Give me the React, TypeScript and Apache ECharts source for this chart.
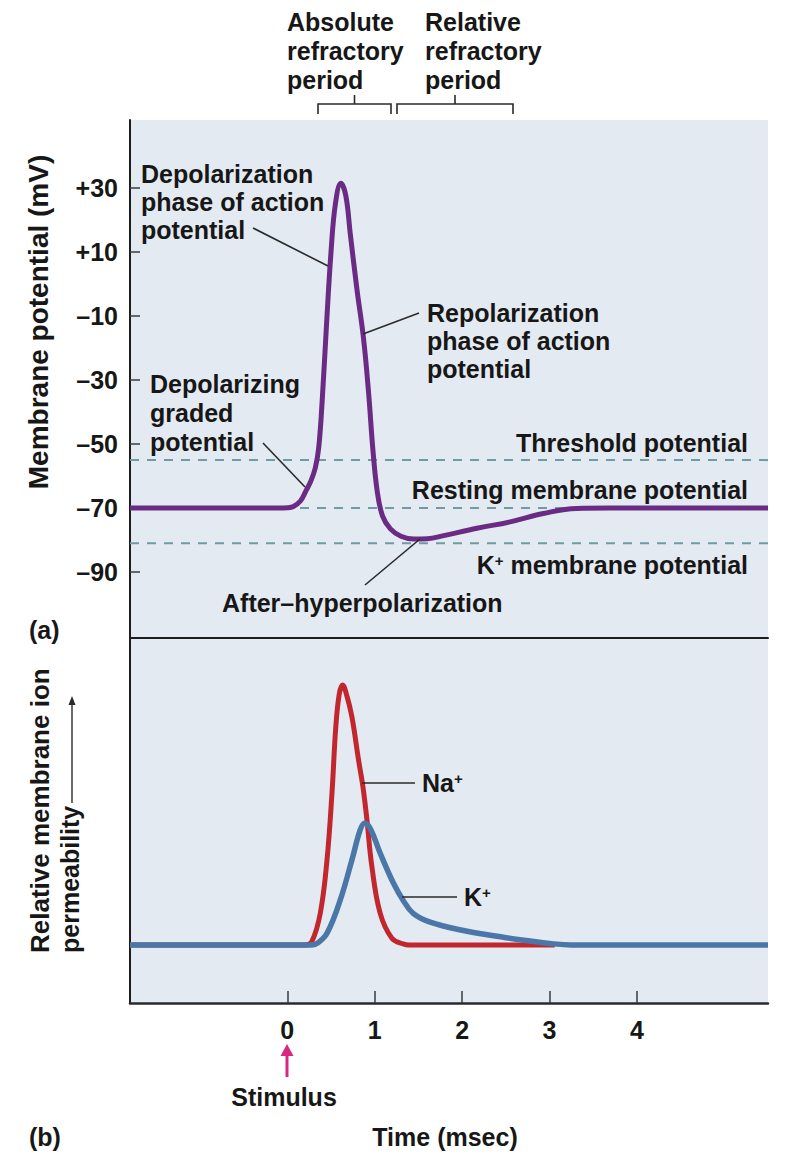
import React, { useEffect, useRef } from "react";
import * as echarts from "echarts";

// ---- data ----
// (a) membrane potential, mV, against time, msec
const apTime = [-1.8, -0.1, 0.0, 0.07, 0.15, 0.21, 0.27, 0.32, 0.36, 0.4, 0.45, 0.5, 0.55, 0.613, 0.67, 0.72, 0.796, 0.872, 0.93, 0.98, 1.03, 1.09, 1.18, 1.3, 1.45, 1.6, 1.79, 2.17, 2.55, 2.93, 3.31, 3.7, 5.5];
const apMv = [-70, -70, -69.9, -69.5, -67.8, -64.8, -61.5, -57.5, -51, -36, -12, 10, 25, 31.5, 27.5, 15.8, -1.5, -17, -34, -52, -65, -72.5, -76.5, -78.8, -79.7, -79.6, -78.6, -76.3, -74.3, -71.7, -70.1, -70, -70];

// reference levels (dashed): threshold, resting, K+ equilibrium
const refLevels = [-55, -70, -81];

// (b) relative permeability (arbitrary units, Na+ peak = 100)
const naTime = [-1.8, 0.2, 0.28, 0.377, 0.454, 0.511, 0.555, 0.595, 0.632, 0.675, 0.739, 0.815, 0.865, 0.911, 0.968, 1.063, 1.197, 1.326, 1.4, 3.06];
const naPerm = [0, 0, 1.3, 12.2, 32.8, 58.6, 84.3, 97, 100.4, 97, 88.1, 71.4, 61.1, 48.3, 30.2, 12.2, 2.6, 0.4, 0, 0];
const kTime = [-1.8, 0.28, 0.35, 0.454, 0.606, 0.739, 0.834, 0.884, 0.949, 1.063, 1.215, 1.33, 1.44, 1.634, 2.015, 2.397, 2.66, 3.0, 3.25, 5.5];
const kPerm = [0, 0, 0.8, 4.5, 17.4, 32.8, 44.4, 47, 45, 35.4, 23.8, 17, 12.2, 8.8, 5.6, 3.4, 2.0, 0.6, 0, 0];

// tick labels
const yTicks = [-90, -70, -50, -30, -10, 10, 30];
const xTicks = [0, 1, 2, 3, 4];

const FONT = '"Liberation Sans", Arial, Helvetica, sans-serif';
const INK = "#171717";
const BG = "#e3eaf1";
const PURPLE = "#6b2a84";
const RED = "#c1272d";
const BLUE = "#4b77a8";
const DASH = "#6f9ca4";

const sup = { fontSize: 15, fontWeight: "bold", fontFamily: FONT, fill: INK, verticalAlign: "top" };

function txt(x: number, y: number, text: string, extra: any = {}) {
  return {
    type: "text",
    x,
    y,
    silent: true,
    z: 100,
    style: {
      text,
      fill: INK,
      fontSize: 25,
      fontWeight: "bold",
      fontFamily: FONT,
      align: "left",
      verticalAlign: "middle",
      rich: { s: sup },
      ...extra,
    },
  };
}
function seg(x1: number, y1: number, x2: number, y2: number, color = "#2a2a2a", w = 1.6) {
  return { type: "line", silent: true, z: 100, shape: { x1, y1, x2, y2 }, style: { stroke: color, lineWidth: w } };
}
function poly(points: number[][], color = "#2a2a2a", w = 1.6) {
  return { type: "polyline", silent: true, z: 100, shape: { points }, style: { stroke: color, lineWidth: w, fill: null } };
}

const zip = (a: number[], b: number[]) => a.map((t, i) => [t, b[i]]);

export default function App() {
  const ref = useRef<HTMLDivElement>(null);
  useEffect(() => {
    if (!ref.current) return;
    const chart = echarts.init(ref.current, null, { renderer: "svg" });
    const axisLine = { show: true, onZero: false, lineStyle: { color: "#1e1e1e", width: 2 } };
    const graphics: any[] = [
      // refractory period header
      txt(287, 7, "Absolute\nrefractory\nperiod", { verticalAlign: "top", lineHeight: 29 }),
      txt(425, 7, "Relative\nrefractory\nperiod", { verticalAlign: "top", lineHeight: 29 }),
      poly([[318, 114], [318, 104], [391, 104], [391, 114]]),
      seg(354.5, 104, 354.5, 95),
      poly([[397, 114], [397, 104], [513, 104], [513, 114]]),
      seg(455, 104, 455, 95),
      // panel (a) annotations
      txt(141, 160, "Depolarization\nphase of action\npotential", { verticalAlign: "top", lineHeight: 28 }),
      seg(253, 228, 328, 266),
      txt(427, 299, "Repolarization\nphase of action\npotential", { verticalAlign: "top", lineHeight: 28 }),
      seg(363, 334, 419, 313),
      txt(150, 369, "Depolarizing\ngraded\npotential", { verticalAlign: "top", lineHeight: 29 }),
      seg(263, 443, 305, 487),
      txt(748, 443, "Threshold potential", { align: "right" }),
      txt(748, 490, "Resting membrane potential", { align: "right" }),
      txt(748, 565, "K{s|+} membrane potential", { align: "right" }),
      txt(222, 603, "After–hyperpolarization"),
      seg(365, 585, 420, 539),
      txt(29, 630, "(a)"),
      {
        type: "text",
        x: 38,
        y: 322,
        rotation: Math.PI / 2,
        silent: true,
        style: { text: "Membrane potential (mV)", fill: INK, fontSize: 28, fontWeight: "bold", fontFamily: FONT, align: "center", verticalAlign: "middle" },
      },
      // panel (b) annotations
      seg(362, 783, 415, 783),
      txt(422, 783, "Na{s|+}"),
      seg(402, 897, 457, 897),
      txt(464, 897, "K{s|+}"),
      {
        type: "text",
        x: 40,
        y: 953,
        rotation: Math.PI / 2,
        silent: true,
        style: { text: "Relative membrane ion", fill: INK, fontSize: 26, fontWeight: "bold", fontFamily: FONT, align: "left", verticalAlign: "middle" },
      },
      {
        type: "text",
        x: 70,
        y: 953,
        rotation: Math.PI / 2,
        silent: true,
        style: { text: "permeability", fill: INK, fontSize: 25, fontWeight: "bold", fontFamily: FONT, align: "left", verticalAlign: "middle" },
      },
      seg(72, 803, 72, 704, "#2a2a2a", 1.4),
      { type: "polygon", silent: true, z: 100, shape: { points: [[72, 696], [68.5, 705], [75.5, 705]] }, style: { fill: "#2a2a2a" } },
      // stimulus arrow
      { type: "polygon", silent: true, z: 100, shape: { points: [[287, 1044], [280.5, 1056], [293.5, 1056]] }, style: { fill: "#d9267f" } },
      seg(287, 1055, 287, 1077, "#d9267f", 3),
      txt(284, 1097, "Stimulus", { align: "center" }),
      txt(29, 1137, "(b)"),
      txt(445, 1137, "Time (msec)", { align: "center" }),
    ];

    const option: any = {
      animation: false,
      backgroundColor: "#ffffff",
      grid: [
        { left: 130, top: 120, width: 638, height: 518, show: true, backgroundColor: BG, borderWidth: 0 },
        { left: 130, top: 638, width: 638, height: 365, show: true, backgroundColor: BG, borderWidth: 0 },
      ],
      xAxis: [
        {
          type: "value", gridIndex: 0, min: -1.8, max: 5.5,
          axisLine, axisTick: { show: false }, axisLabel: { show: false }, splitLine: { show: false },
        },
        {
          type: "value", gridIndex: 1, min: -1.8, max: 5.5,
          axisLine: { show: true, onZero: false, lineStyle: { color: "#2a2a2a", width: 2.5 } },
          axisTick: { show: true, inside: true, length: 12, customValues: xTicks, lineStyle: { color: "#3a3a3a", width: 1.5 } },
          axisLabel: { show: true, customValues: xTicks, fontSize: 25, fontWeight: "bold", fontFamily: FONT, color: INK, margin: 14 },
          splitLine: { show: false },
        },
      ],
      yAxis: [
        {
          type: "value", gridIndex: 0, min: -110.6, max: 51.25,
          axisLine,
          axisTick: { show: true, inside: true, length: 10, customValues: yTicks, lineStyle: { color: "#3a3a3a", width: 1.5 } },
          axisLabel: {
            show: true, customValues: yTicks, fontSize: 25, fontWeight: "bold", fontFamily: FONT, color: INK, margin: 12,
            formatter: (v: number) => (v > 0 ? "+" + v : v < 0 ? "–" + Math.abs(v) : "0"),
          },
          splitLine: { show: false },
        },
        {
          type: "value", gridIndex: 1, min: -22.4, max: 118.5,
          axisLine, axisTick: { show: false }, axisLabel: { show: false }, splitLine: { show: false },
        },
      ],
      series: [
        ...refLevels.map((v) => ({
          type: "line",
          xAxisIndex: 0,
          yAxisIndex: 0,
          symbol: "none",
          silent: true,
          z: 1,
          data: [[-1.8, v], [5.5, v]],
          lineStyle: { color: DASH, width: 2, type: [9, 8] },
        })),
        {
          name: "Membrane potential",
          type: "line",
          xAxisIndex: 0,
          yAxisIndex: 0,
          symbol: "none",
          smooth: 0.4,
          z: 3,
          data: zip(apTime, apMv),
          lineStyle: { color: PURPLE, width: 5 },
        },
        {
          name: "Na+",
          type: "line",
          xAxisIndex: 1,
          yAxisIndex: 1,
          symbol: "none",
          smooth: 0.4,
          z: 3,
          data: zip(naTime, naPerm),
          lineStyle: { color: RED, width: 5 },
        },
        {
          name: "K+",
          type: "line",
          xAxisIndex: 1,
          yAxisIndex: 1,
          symbol: "none",
          smooth: 0.4,
          z: 4,
          data: zip(kTime, kPerm),
          lineStyle: { color: BLUE, width: 5.5 },
        },
      ],
      graphic: graphics,
    };
    chart.setOption(option);
    return () => chart.dispose();
  }, []);
  return <div ref={ref} style={{ position: "absolute", left: 0, top: 0, width: 788, height: 1176 }} />;
}
